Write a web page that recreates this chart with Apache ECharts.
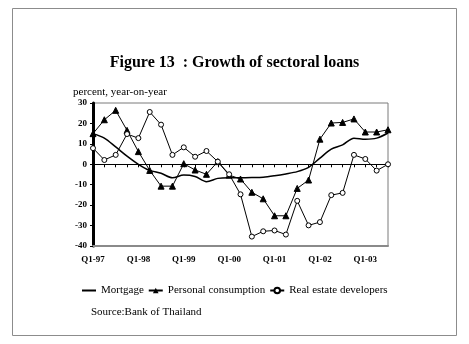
<!DOCTYPE html>
<html>
<head>
<meta charset="utf-8">
<script src="https://cdn.jsdelivr.net/npm/echarts@6/dist/echarts.min.js"></script>
<style>
  html, body { margin: 0; padding: 0; background: #ffffff; }
  #chart { width: 469px; height: 344px; }
</style>
</head>
<body>
<div id="chart"></div>
<script>
// Quarterly loan growth, Q1-97 .. Q3-03 (percent, year-on-year)
const quarters = [
  'Q1-97','Q2-97','Q3-97','Q4-97',
  'Q1-98','Q2-98','Q3-98','Q4-98',
  'Q1-99','Q2-99','Q3-99','Q4-99',
  'Q1-00','Q2-00','Q3-00','Q4-00',
  'Q1-01','Q2-01','Q3-01','Q4-01',
  'Q1-02','Q2-02','Q3-02','Q4-02',
  'Q1-03','Q2-03','Q3-03'
];
const mortgage = [15, 12.8, 8.5, 4, 0, -3, -4.4, -6.6, -5.3, -6, -8.5, -6.9, -6.6, -6.6,
  -6.5, -6.3, -5.6, -4.7, -3.6, -1.5, 3, 7.4, 9.5, 12.8, 12.3, 12.8, 15.3];
const personalConsumption = [15, 21.8, 26.4, 16.6, 6.2, -3, -10.7, -10.7, 0.3, -2.8, -4.9, 1.3,
  -5.3, -7.2, -13.7, -16.9, -25.2, -25.2, -11.8, -7.7, 12.3, 20.2, 20.5, 22.2, 15.8, 15.8, 16.9];
const realEstate = [7.9, 2.1, 4.6, 14.8, 12.8, 25.6, 19.4, 4.6, 8.3, 3.7, 6.5, 1.3, -4.9, -14.7,
  -35.4, -32.8, -32.4, -34.4, -17.9, -29.9, -28.3, -15.1, -14, 4.6, 2.6, -3.1, 0];
const yTicks = { min: -40, max: 30, step: 10 };

const serif = 'Liberation Serif, Times New Roman, serif';
const chart = echarts.init(document.getElementById('chart'));

chart.setOption({
  backgroundColor: '#ffffff',
  animation: false,
  title: {
    text: 'Figure 13  : Growth of sectoral loans',
    left: 'center',
    top: 50,
    textStyle: { fontFamily: serif, fontSize: 16, fontWeight: 'bold', color: '#000' }
  },
  graphic: [
    {
      type: 'rect',
      shape: { x: 12.5, y: 8.5, width: 444, height: 327 },
      style: { fill: 'none', stroke: '#8c8c8c', lineWidth: 1 },
      silent: true
    },
    {
      type: 'text',
      left: 73, top: 87,
      style: { text: 'percent, year-on-year', font: '11px ' + serif, fill: '#000' }
    },
    {
      type: 'text',
      left: 91, top: 307,
      style: { text: 'Source:Bank of Thailand', font: '11px ' + serif, fill: '#000' }
    }
  ],
  legend: {
    left: 81,
    top: 285,
    padding: 0,
    itemWidth: 14,
    itemHeight: 7,
    itemGap: 4,
    textStyle: { fontFamily: serif, fontSize: 11, color: '#000' },
    data: [
      // plain line key for the smoothed series (no marker)
      { name: 'Mortgage', itemStyle: { opacity: 0 } },
      'Personal consumption',
      'Real estate developers'
    ]
  },
  grid: {
    left: 93, right: 81, top: 103, bottom: 98,
    show: true, borderColor: '#7a7a7a', borderWidth: 1, backgroundColor: 'transparent'
  },
  xAxis: [
    {
      type: 'category',
      data: quarters,
      boundaryGap: false,
      axisLine: { onZero: true, lineStyle: { color: '#000', width: 1 } },
      axisTick: { show: true, interval: 0, length: 3, lineStyle: { color: '#000' } },
      axisLabel: { show: false },
      splitLine: { show: false }
    },
    {
      type: 'category',
      data: quarters,
      boundaryGap: false,
      position: 'bottom',
      axisLine: { onZero: false, lineStyle: { color: '#8a8a8a', width: 2 } },
      axisTick: { show: false },
      axisLabel: {
        interval: 3,
        margin: 9,
        fontFamily: serif, fontSize: 9, fontWeight: 'bold', color: '#000'
      },
      splitLine: { show: false }
    }
  ],
  yAxis: {
    type: 'value',
    min: yTicks.min,
    max: yTicks.max,
    interval: yTicks.step,
    axisLine: { show: true, lineStyle: { color: '#000', width: 3 } },
    axisTick: { show: true, length: 3, lineStyle: { color: '#000' } },
    axisLabel: { margin: 6, fontFamily: serif, fontSize: 9, fontWeight: 'bold', color: '#000' },
    splitLine: { show: false }
  },
  series: [
    {
      name: 'Mortgage',
      type: 'line',
      xAxisIndex: 0,
      data: mortgage,
      smooth: 0.3,
      symbol: 'none',
      lineStyle: { color: '#000', width: 1.5 },
      itemStyle: { color: '#000' }
    },
    {
      name: 'Personal consumption',
      type: 'line',
      xAxisIndex: 0,
      data: personalConsumption,
      symbol: 'triangle',
      symbolSize: 6,
      lineStyle: { color: '#000', width: 1 },
      itemStyle: { color: '#000', borderColor: '#000' }
    },
    {
      name: 'Real estate developers',
      type: 'line',
      xAxisIndex: 0,
      data: realEstate,
      symbol: 'circle',
      symbolSize: 5,
      lineStyle: { color: '#000', width: 1 },
      itemStyle: { color: '#fff', borderColor: '#000', borderWidth: 1 }
    }
  ]
});
</script>
</body>
</html>
